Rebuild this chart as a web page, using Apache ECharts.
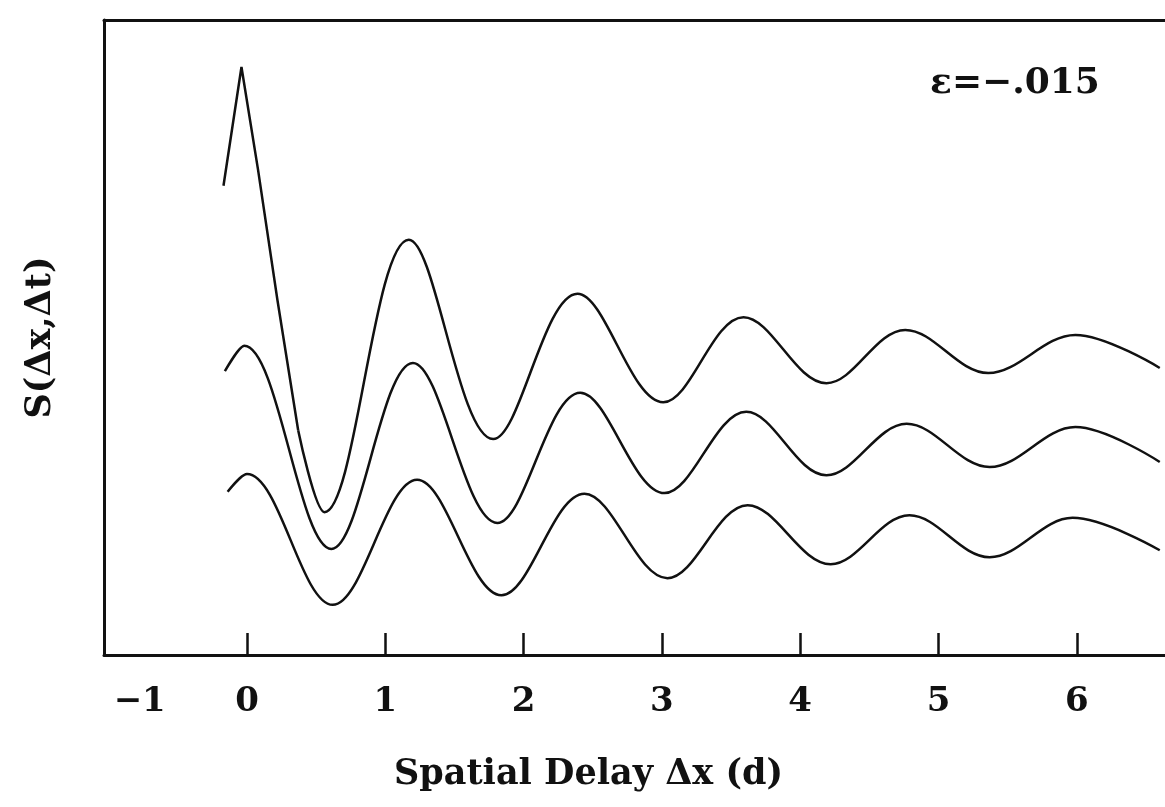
<!DOCTYPE html>
<html>
<head>
<meta charset="utf-8">
<title>S(Δx,Δt)</title>
<script src="https://cdn.jsdelivr.net/npm/echarts@6/dist/echarts.min.js"></script>
<style>
	html, body { margin: 0; padding: 0; background: #fff; }
	#chart { width: 1165px; height: 807px; }
</style>
</head>
<body>
<div id="chart"></div>
<script>
// tick positions and labels of the spatial delay axis
var tickValues = [0, 1, 2, 3, 4, 5, 6];
var labelValues = [-1, 0, 1, 2, 3, 4, 5, 6];

// top curve, sharp spike near zero (straight pieces, no smoothing)
var topSpike = [[-0.17, 7.39], [-0.04, 9.26], [0.08, 7.64], [0.22, 5.59], [0.37, 3.54]];
// top curve, rest: peaks and troughs
var topCurve = [
	[0.37, 3.54], [0.56, 2.25], [1.17, 6.54], [1.78, 3.40], [2.39, 5.69], [3.01, 3.98],
	[3.59, 5.32], [4.19, 4.28], [4.76, 5.12], [5.36, 4.44], [5.99, 5.04], [6.60, 4.52]
];
// middle curve
var midCurve = [
	[-0.16, 4.47], [-0.02, 4.87], [0.61, 1.67], [1.20, 4.60], [1.81, 2.08], [2.41, 4.13],
	[3.02, 2.55], [3.61, 3.83], [4.19, 2.83], [4.77, 3.64], [5.37, 2.96], [5.99, 3.59],
	[6.60, 3.04]
];
// bottom curve
var lowCurve = [
	[-0.14, 2.57], [0.00, 2.85], [0.62, 0.79], [1.23, 2.76], [1.84, 0.94], [2.44, 2.54],
	[3.04, 1.21], [3.62, 2.36], [4.22, 1.43], [4.79, 2.20], [5.37, 1.54], [5.97, 2.16],
	[6.60, 1.65]
];

var font = 'DejaVu Serif';
var ink = '#111';
var xMin = -1.034, xMax = 6.638;

function curve(data, smooth) {
	return {
		type: 'line',
		data: data,
		smooth: smooth,
		showSymbol: false,
		silent: true,
		lineStyle: { color: ink, width: 2.5 }
	};
}

var chart = echarts.init(document.getElementById('chart'));
chart.setOption({
	animation: false,
	grid: { left: 104, top: 20, right: 0, bottom: 152 },
	xAxis: [{
		type: 'value',
		min: xMin,
		max: xMax,
		name: 'Spatial Delay Δx (d)',
		nameLocation: 'middle',
		nameGap: 102,
		nameTextStyle: {
			fontFamily: font, fontWeight: 'bold', fontSize: 35, color: ink,
			padding: [0, 92, 0, 0]
		},
		axisLine: { show: true, onZero: false, lineStyle: { color: ink, width: 3 } },
		axisTick: {
			show: true, inside: true, length: 22,
			customValues: tickValues,
			lineStyle: { color: ink, width: 2.5 }
		},
		axisLabel: {
			customValues: labelValues,
			margin: 30,
			fontFamily: font, fontWeight: 'bold', fontSize: 34, color: ink,
			formatter: function (v) {
				if (v === -1) return '{m|−1}';
				return String(v);
			},
			rich: {
				m: { fontFamily: font, fontWeight: 'bold', fontSize: 34, color: ink, padding: [0, 0, 0, 62] }
			}
		},
		splitLine: { show: false }
	}, {
		// top edge of the frame
		type: 'value',
		position: 'top',
		min: xMin,
		max: xMax,
		axisLine: { show: true, onZero: false, lineStyle: { color: ink, width: 3 } },
		axisTick: { show: false },
		axisLabel: { show: false },
		splitLine: { show: false }
	}],
	yAxis: {
		type: 'value',
		min: 0,
		max: 10,
		name: 'S(Δx,Δt)',
		nameLocation: 'middle',
		nameGap: 46,
		nameTextStyle: { fontFamily: font, fontWeight: 'bold', fontSize: 35, color: ink },
		axisLine: { show: true, onZero: false, lineStyle: { color: ink, width: 3 } },
		axisTick: { show: false },
		axisLabel: { show: false },
		splitLine: { show: false }
	},
	graphic: [{
		type: 'text',
		left: 930,
		top: 66,
		style: { text: 'ε=−.015', fontFamily: font, fontWeight: 'bold', fontSize: 36, fill: ink }
	}],
	series: [
		curve(topSpike, false),
		curve(topCurve, 0.36),
		curve(midCurve, 0.36),
		curve(lowCurve, 0.36)
	]
});
</script>
</body>
</html>
